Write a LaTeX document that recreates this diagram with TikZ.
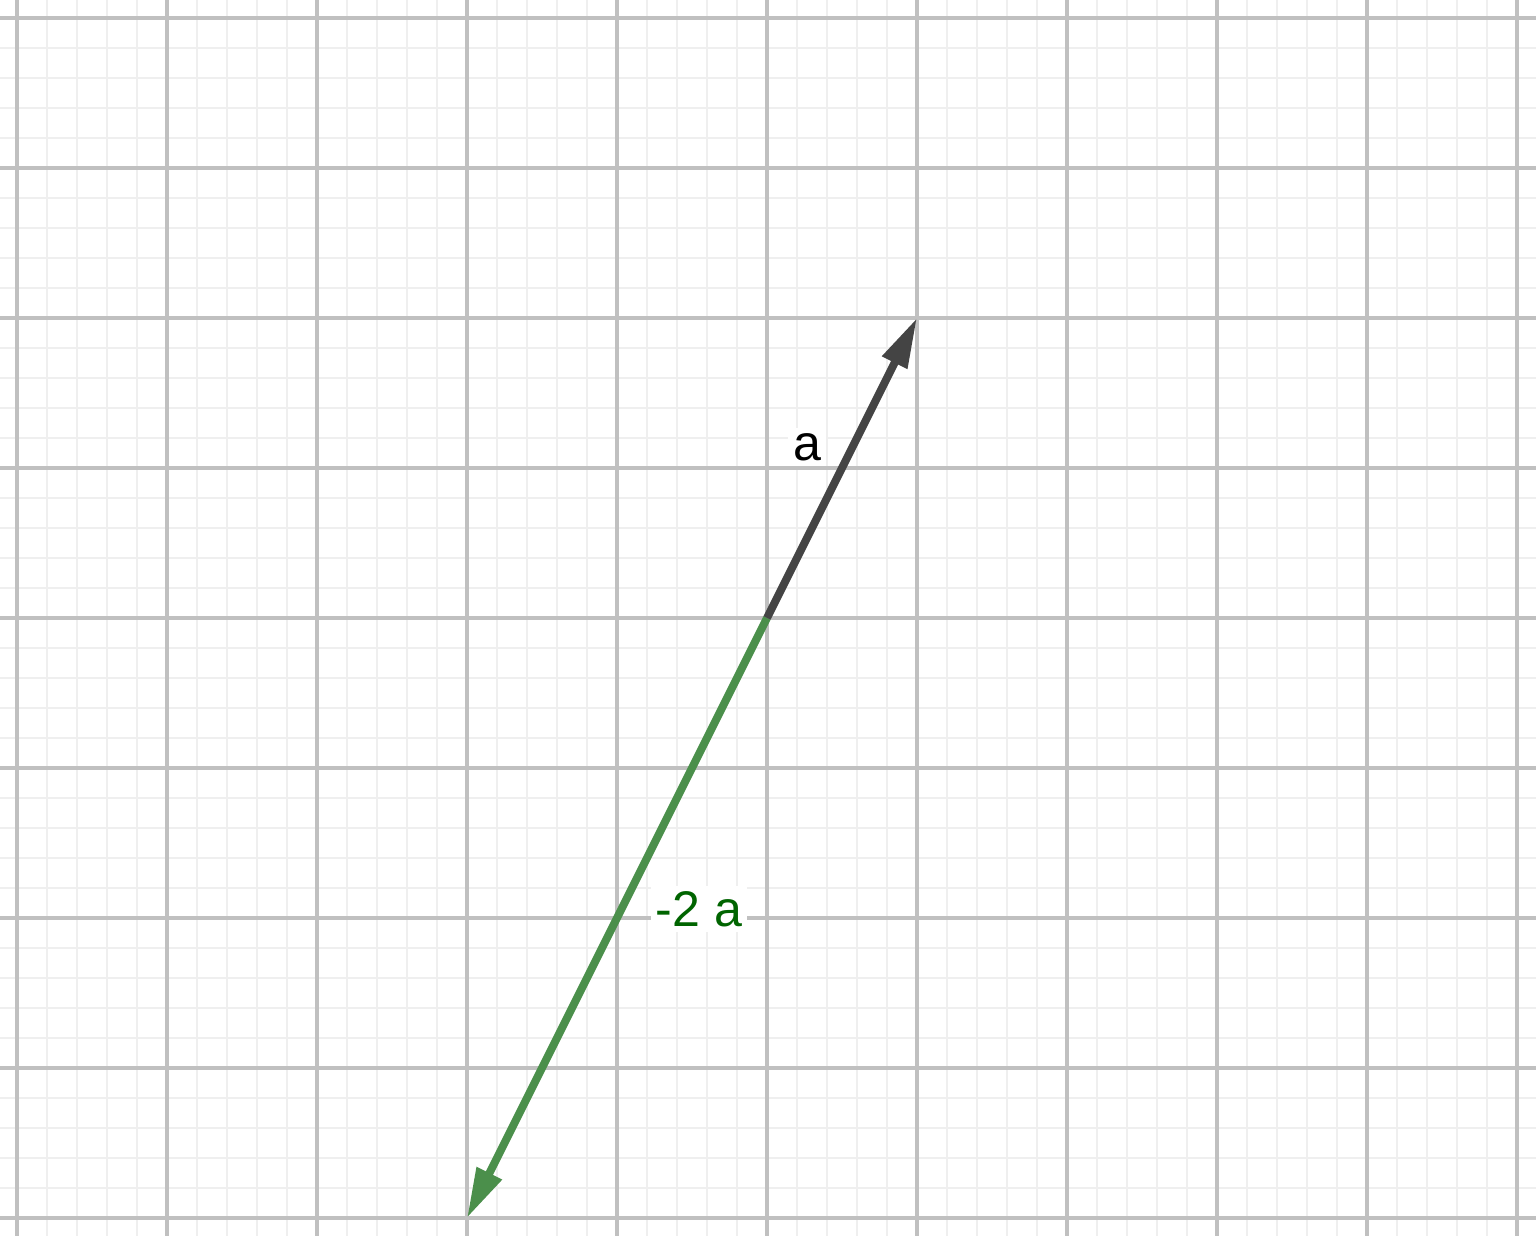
\documentclass[tikz,border=0pt]{standalone}
\usepackage{fontspec}
\setmainfont{Liberation Sans}
\usetikzlibrary{positioning,arrows.meta}
\definecolor{gridminor}{HTML}{EFEFEF}
\definecolor{gridmajor}{HTML}{C0C0C0}
\definecolor{vecgrey}{HTML}{444444}
\definecolor{vecgreen}{HTML}{4B8F4B}
\definecolor{labelgreen}{HTML}{006400}

\begin{document}
\begin{tikzpicture}[x=1cm,y=1cm]
\useasboundingbox (-5.1133,-4.12) rectangle (5.1267,4.12);
\fill[white] (-5.1133,-4.12) rectangle (5.1267,4.12);
\draw[gridminor, line width=0.4pt, step=0.2] (-5.1133,-4.12) grid (5.1267,4.12);
\draw[gridmajor, line width=0.6pt, step=1] (-5.1133,-4.12) grid (5.1267,4.12);
\coordinate (O) at (0,0);
\coordinate (A) at (1,2);
\coordinate (B) at (-2,-4);
\draw[vecgreen, line width=1.5pt, -{Triangle[length=9.5pt,width=5pt]}] (O) -- (B);
\draw[vecgrey, line width=1.5pt, -{Triangle[length=9.5pt,width=5pt]}] (O) -- (A);
\node[fill=white, inner sep=1pt, font=\fontsize{9.5}{11}\selectfont] (la) at (0.267,1.14) {a};
\node[fill=white, inner sep=1pt, text=labelgreen, font=\fontsize{9.5}{11}\selectfont] (lb) at (-0.453,-1.94) {-2 a};
\end{tikzpicture}
\end{document}
